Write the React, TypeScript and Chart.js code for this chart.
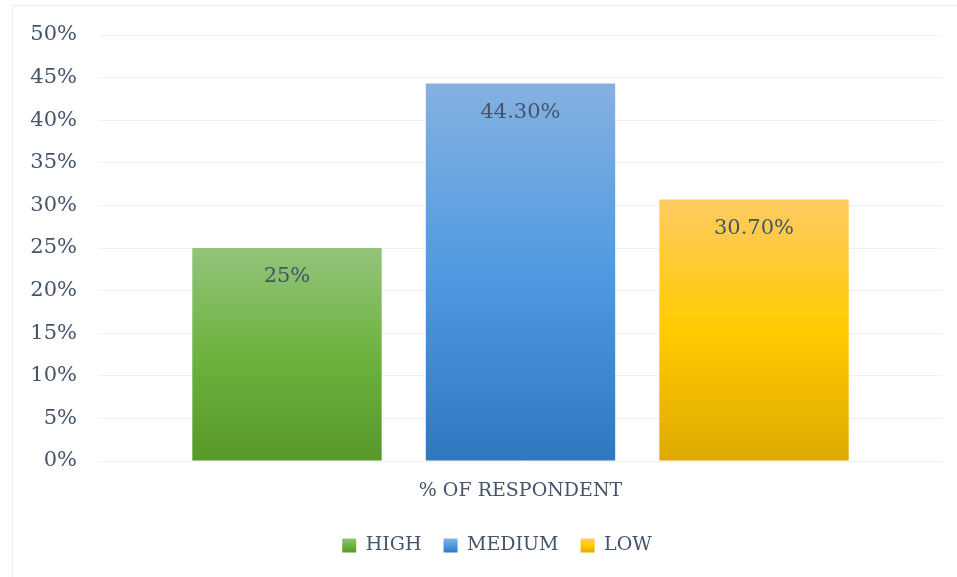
import React, { useEffect, useRef } from "react";
import { Chart, registerables } from "chart.js";

Chart.register(...registerables);

const categories = ["% OF RESPONDENT"];
const seriesNames = ["HIGH", "MEDIUM", "LOW"];
const seriesValues = [25, 44.3, 30.7];
const dataLabels = ["25%", "44.30%", "30.70%"];
const yTicks = [0, 5, 10, 15, 20, 25, 30, 35, 40, 45, 50];

const gradientStops = [
  ["#93c47b", "#6db33e", "#56992a"],
  ["#85b1e1", "#4f9ae0", "#2e78c0"],
  ["#ffcb62", "#ffcb00", "#dfaa00"],
];
const legendColors = ["#6cb23c", "#559fe2", "#fcc400"];

const FONT = "'DejaVu Serif', serif";
const TEXT = "#44546a";

const dataLabelPlugin = {
  id: "dataLabelPlugin",
  afterDatasetsDraw(chart: any) {
    const ctx = chart.ctx;
    ctx.save();
    ctx.font = `21px ${FONT}`;
    ctx.fillStyle = TEXT;
    ctx.textAlign = "center";
    ctx.textBaseline = "middle";
    chart.data.datasets.forEach((ds: any, i: number) => {
      const meta = chart.getDatasetMeta(i);
      const bar = meta.data[0];
      if (!bar) return;
      ctx.fillText(dataLabels[i], bar.x, bar.y + 29);
    });
    ctx.restore();
  },
};

const borderPlugin = {
  id: "borderPlugin",
  beforeDraw(chart: any) {
    const ctx = chart.ctx;
    ctx.save();
    ctx.fillStyle = "#ffffff";
    ctx.fillRect(0, 0, chart.width, chart.height);
    ctx.strokeStyle = "#eeeeee";
    ctx.lineWidth = 1;
    ctx.strokeRect(12.5, 5.5, chart.width - 10, chart.height);
    ctx.restore();
  },
};

const legendShiftPlugin = {
  id: "legendShiftPlugin",
  afterLayout(chart: any) {
    const lg = chart.legend;
    if (lg) {
      lg.left += 26;
      lg.right += 26;
    }
  },
};

export default function App() {
  const ref = useRef<HTMLCanvasElement>(null);
  useEffect(() => {
    document.body.style.margin = "0";
    const canvas = ref.current!;
    const makeBg = (i: number) => (c: any) => {
      const chart = c.chart;
      const y = chart.scales && chart.scales.y;
      if (c.type !== "data" || !y) return legendColors[i];
      const top = y.getPixelForValue(seriesValues[i]);
      const bottom = y.getPixelForValue(0);
      if (!isFinite(top) || !isFinite(bottom)) return legendColors[i];
      const g = chart.ctx.createLinearGradient(0, top, 0, bottom);
      g.addColorStop(0, gradientStops[i][0]);
      g.addColorStop(0.5, gradientStops[i][1]);
      g.addColorStop(1, gradientStops[i][2]);
      return g;
    };
    const chart = new Chart(canvas, {
      type: "bar",
      data: {
        labels: categories,
        datasets: seriesNames.map((name, i) => ({
          label: name,
          data: [seriesValues[i]],
          backgroundColor: makeBg(i),
          borderWidth: 0,
          categoryPercentage: 0.831,
          barPercentage: 0.811,
        })),
      },
      options: {
        animation: false,
        responsive: false,
        layout: { padding: { left: 0, right: 15, top: 35, bottom: 12 } },
        plugins: {
          legend: {
            position: "bottom",
            labels: {
              boxWidth: 14,
              boxHeight: 14,
              padding: 22,
              color: TEXT,
              font: { family: FONT, size: 19 },
              generateLabels(chart: any) {
                const items = Chart.defaults.plugins.legend.labels.generateLabels(chart);
                return items.map((it: any, i: number) => {
                  const lg = chart.legend;
                  const top = lg && isFinite(lg.top) ? lg.top + 22 + 2.5 : 538;
                  const g = chart.ctx.createLinearGradient(0, top, 0, top + 14);
                  g.addColorStop(0, gradientStops[i][0]);
                  g.addColorStop(0.5, gradientStops[i][1]);
                  g.addColorStop(1, gradientStops[i][2]);
                  return { ...it, fillStyle: g, strokeStyle: "rgba(0,0,0,0)", lineWidth: 0 };
                });
              },
            },
          },
          tooltip: { enabled: false },
        },
        scales: {
          x: {
            grid: { display: false, drawTicks: false },
            border: { display: false },
            ticks: {
              color: TEXT,
              font: { family: FONT, size: 19 },
              padding: 19,
            },
            afterFit(scale: any) {
              scale.height = 53;
            },
          },
          y: {
            min: 0,
            max: 50,
            afterBuildTicks(scale: any) {
              scale.ticks = yTicks.map((v) => ({ value: v }));
            },
            grid: { color: "#f0f0f0", lineWidth: 1, drawTicks: false },
            border: { display: false },
            ticks: {
              color: TEXT,
              font: { family: FONT, size: 21 },
              padding: 22,
              callback: (v: any) => `${v}%`,
            },
            afterFit(scale: any) {
              scale.width = 99;
            },
          },
        },
      },
      plugins: [borderPlugin, dataLabelPlugin, legendShiftPlugin],
    });
    return () => chart.destroy();
  }, []);
  return <canvas ref={ref} width={957} height={577} style={{ display: "block" }} />;
}
